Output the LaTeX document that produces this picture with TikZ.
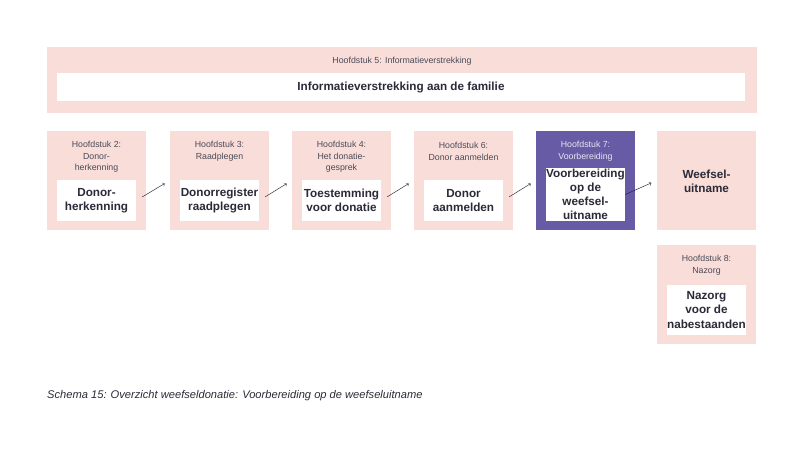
\documentclass[tikz,border=0pt]{standalone}
\usepackage{fontspec}
\setmainfont{Liberation Sans}
\usetikzlibrary{positioning}
\definecolor{roze}{HTML}{F9DDD9}
\definecolor{paars}{HTML}{675BA5}
\definecolor{tekst}{HTML}{2A2A38}
\tikzset{
  chapter/.style={fill=roze, minimum width=2.97cm, minimum height=2.97cm, inner sep=0pt},
  inner/.style={fill=white, font=\bfseries, align=center, text=tekst, minimum width=2.37cm, inner sep=0pt},
  kop/.style={align=center, text=tekst!85, font=\fontsize{7.5}{10}\selectfont},
  pijl/.style={->, thin, tekst, shorten <=0.21cm, shorten >=0.18cm}
}
\begin{document}
\begin{tikzpicture}[x=0.03cm, y=-0.03cm, font=\fontsize{7.5}{10}\selectfont, text=tekst]
        \useasboundingbox (0,0) rectangle (805,474);
        % Informatieverstrekking
        \node[fill=roze, minimum width=21.3cm, minimum height=1.98cm, inner sep=0pt] (info) at (402,80) {};
        \node[kop] at (402,61) {Hoofdstuk 5: Informatieverstrekking};
        \node[inner, minimum width=20.64cm, minimum height=0.84cm] (infoin) at (401,87) {Informatieverstrekking aan de familie};

        % Hoofdstukken
        \node[chapter] (b1) at (96.5,180.5) {};
        \node[chapter] (b2) at (219.5,180.5) {};
        \node[chapter] (b3) at (341.5,180.5) {};
        \node[chapter] (b4) at (463.5,180.5) {};
        \node[chapter, fill=paars] (b5) at (585.5,180.5) {};
        \node[chapter] (b6) at (706.5,180.5) {};
        \node[chapter] (b8) at (706.5,294) {};

        \node[kop] at (96.5,157) {Hoofdstuk 2:\\Donor-\\herkenning};
        \node[kop] at (219.5,151) {Hoofdstuk 3:\\Raadplegen};
        \node[kop] at (341.5,157) {Hoofdstuk 4:\\Het donatie-\\gesprek};
        \node[kop] at (463.5,151) {Hoofdstuk 6:\\Donor aanmelden};
        \node[kop, text=white!85!paars] at (585.5,151) {Hoofdstuk 7:\\Voorbereiding};
        \node[kop] at (706.5,265) {Hoofdstuk 8:\\Nazorg};

        \node[inner, minimum height=1.23cm] (in1) at (96.5,200.5) {Donor-\\herkenning};
        \node[inner, minimum height=1.23cm] (in2) at (219.5,200.5) {Donorregister\\raadplegen};
        \node[inner, minimum height=1.23cm] (in3) at (341.5,200.5) {Toestemming\\voor donatie};
        \node[inner, minimum height=1.23cm] (in4) at (463.5,200.5) {Donor\\aanmelden};
        \node[inner, minimum height=1.59cm] (in5) at (585.5,194.5) {Voorbereiding\\op de\\weefsel-\\uitname};
        \node[align=center, font=\bfseries] (in6) at (706.5,181) {Weefsel-\\uitname};
        \node[inner, minimum height=1.5cm] (in8) at (706.5,310) {Nazorg\\voor de\\nabestaanden};

        % Pijlen
        \draw[pijl] (in1.east) -- (b2.west);
        \draw[pijl] (in2.east) -- (b3.west);
        \draw[pijl] (in3.east) -- (b4.west);
        \draw[pijl] (in4.east) -- (b5.west);
        \draw[pijl, shorten <=0pt] (in5.east) -- (b6.west);

        % Onderschrift
        \node[anchor=west, font=\itshape\fontsize{9.5}{12}\selectfont, inner sep=0pt] (schema) at (47,396) {Schema 15: Overzicht weefseldonatie: Voorbereiding op de weefseluitname};
\end{tikzpicture}
\end{document}
